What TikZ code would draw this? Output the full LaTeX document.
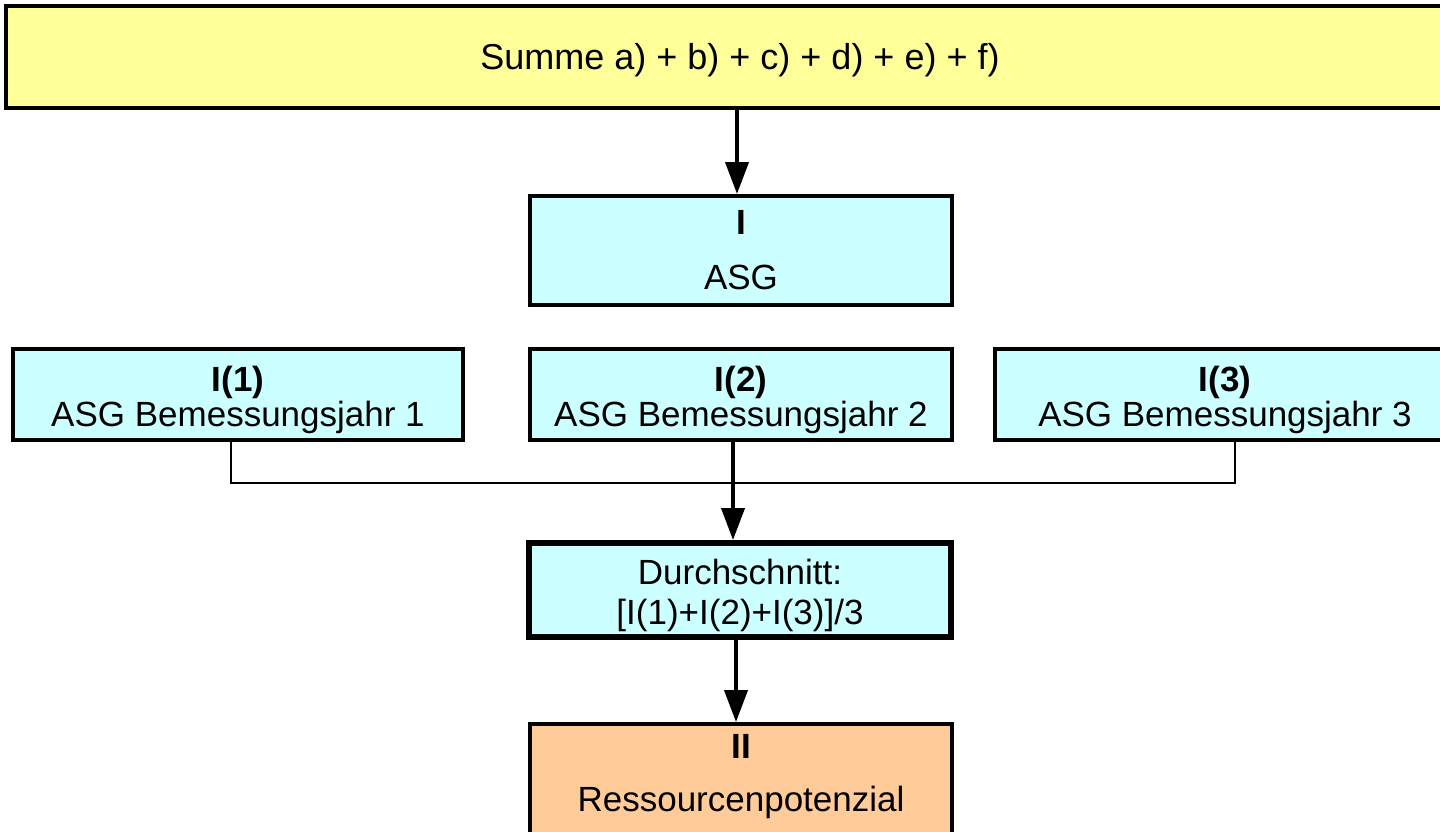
\documentclass[tikz,border=0pt]{standalone}
\usepackage{fontspec}
\setmainfont{Liberation Sans}
\usetikzlibrary{arrows.meta}
\definecolor{boxyellow}{HTML}{FFFF99}
\definecolor{boxcyan}{HTML}{CCFFFF}
\definecolor{boxorange}{HTML}{FFCC99}
\newcommand{\lift}[1]{\rule{0pt}{#1}}
\begin{document}
\begin{tikzpicture}[x=1pt,y=-1pt,
  box/.style={draw=black, rectangle, align=center, inner sep=0pt, font=\fontsize{35}{35}\selectfont},
  arr/.style={line width=4pt, -{Triangle[width=23pt,length=32pt]}},
  link/.style={line width=2pt}]
\useasboundingbox (0,0) rectangle (1440,831);
\node[box, fill=boxyellow, line width=4pt, minimum width=1468pt, minimum height=102pt, font=\fontsize{36}{36}\selectfont] (sum) at (740,57) {\lift{32pt}Summe a) + b) + c) + d) + e) + f)};
\node[box, fill=boxcyan, line width=4pt, minimum width=422pt, minimum height=109pt] (asg) at (741,250.5) {\textbf{I}\\[20pt]ASG};
\node[box, fill=boxcyan, line width=3.5pt, minimum width=450pt, minimum height=91pt] (i1) at (238,394.5) {\lift{37pt}\textbf{I(1)}\\ASG Bemessungsjahr 1};
\node[box, fill=boxcyan, line width=3.5pt, minimum width=422pt, minimum height=91pt] (i2) at (741,394.5) {\lift{37pt}\textbf{I(2)}\\ASG Bemessungsjahr 2};
\node[box, fill=boxcyan, line width=3.5pt, minimum width=460pt, minimum height=91pt] (i3) at (1225,394.5) {\lift{37pt}\textbf{I(3)}\\ASG Bemessungsjahr 3};
\node[box, fill=boxcyan, line width=6pt, minimum width=422pt, minimum height=94pt] (avg) at (740,590) {\lift{37pt}Durchschnitt:\\[5pt]{[}I(1)+I(2)+I(3){]}/3};
\node[box, fill=boxorange, line width=4pt, minimum width=422pt, minimum height=140pt, anchor=north,
  label={[anchor=north, align=center, inner sep=0pt, yshift=-12pt, font=\fontsize{35}{35}\selectfont]north:\textbf{II}\\[18pt]Ressourcenpotenzial}] (ii) at (741,722) {};
\draw[arr] ([xshift=-3pt]sum.south) -- ([xshift=-4pt]asg.north);
\draw[arr] ([xshift=-8pt]i2.south) -- ([xshift=-7pt]avg.north);
\draw[arr] ([xshift=-4pt]avg.south) -- ([xshift=-5pt]ii.north);
\coordinate (j) at (733,483);
\draw[link] ([xshift=-7pt]i1.south) |- (j) -| ([xshift=10pt]i3.south);
\end{tikzpicture}
\end{document}
